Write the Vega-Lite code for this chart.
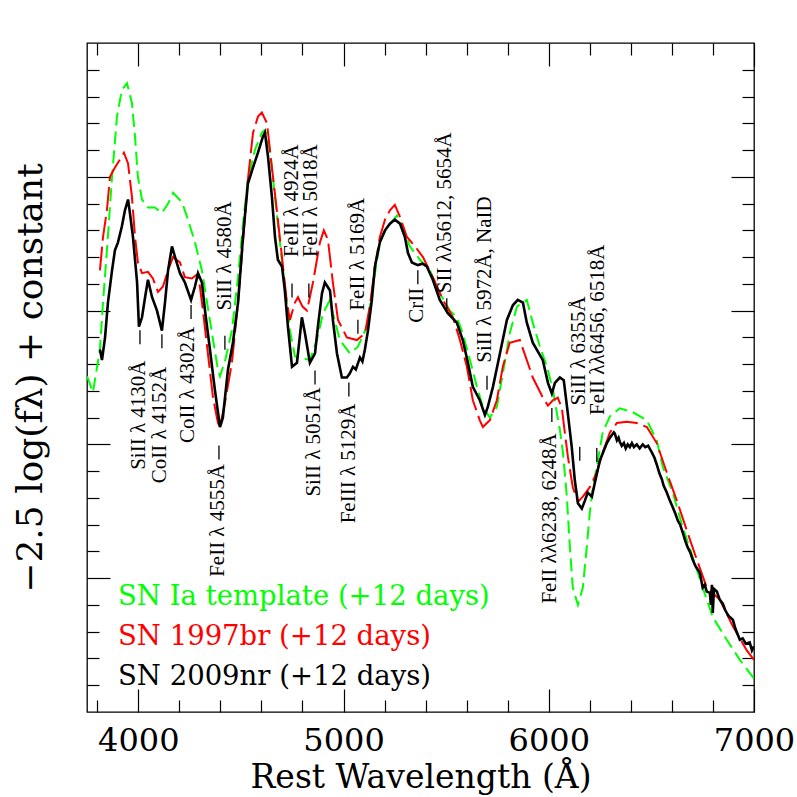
{
  "$schema": "https://vega.github.io/schema/vega-lite/v6.json",
  "description": "Spectra of SN 2009nr, SN 1997br and the SN Ia template at +12 days, with line identifications.",
  "width": 667,
  "height": 669,
  "autosize": {"type": "none"},
  "padding": {"left": 87, "top": 43, "right": 43, "bottom": 85},
  "background": "white",
  "datasets": {
    "template": [
      {"w": 3750, "f": 2.51}, {"w": 3779, "f": 2.39}, {"w": 3813, "f": 2.71}, {"w": 3828, "f": 3.06},
      {"w": 3847, "f": 3.45}, {"w": 3872, "f": 4.0}, {"w": 3896, "f": 4.45}, {"w": 3920, "f": 4.65},
      {"w": 3945, "f": 4.7}, {"w": 3969, "f": 4.55}, {"w": 3984, "f": 4.3}, {"w": 3998, "f": 4.0},
      {"w": 4018, "f": 3.83}, {"w": 4047, "f": 3.77}, {"w": 4081, "f": 3.77}, {"w": 4115, "f": 3.73},
      {"w": 4145, "f": 3.8}, {"w": 4169, "f": 3.88}, {"w": 4213, "f": 3.81}, {"w": 4242, "f": 3.68},
      {"w": 4276, "f": 3.51}, {"w": 4310, "f": 3.3}, {"w": 4335, "f": 3.06}, {"w": 4359, "f": 2.83},
      {"w": 4388, "f": 2.56}, {"w": 4398, "f": 2.51}, {"w": 4422, "f": 2.62}, {"w": 4456, "f": 2.85},
      {"w": 4486, "f": 3.25}, {"w": 4510, "f": 3.65}, {"w": 4534, "f": 3.98}, {"w": 4568, "f": 4.2},
      {"w": 4602, "f": 4.33}, {"w": 4617, "f": 4.35}, {"w": 4641, "f": 4.2}, {"w": 4666, "f": 3.85},
      {"w": 4690, "f": 3.51}, {"w": 4714, "f": 3.18}, {"w": 4739, "f": 2.85}, {"w": 4763, "f": 2.66},
      {"w": 4787, "f": 2.65}, {"w": 4836, "f": 2.63}, {"w": 4870, "f": 2.78}, {"w": 4900, "f": 2.98},
      {"w": 4934, "f": 3.08}, {"w": 4948, "f": 2.98}, {"w": 4982, "f": 2.78}, {"w": 5031, "f": 2.68},
      {"w": 5070, "f": 2.73}, {"w": 5114, "f": 2.88}, {"w": 5143, "f": 3.18}, {"w": 5177, "f": 3.51},
      {"w": 5211, "f": 3.62}, {"w": 5260, "f": 3.71}, {"w": 5289, "f": 3.62}, {"w": 5323, "f": 3.48},
      {"w": 5372, "f": 3.38}, {"w": 5421, "f": 3.3}, {"w": 5469, "f": 3.13}, {"w": 5518, "f": 3.0},
      {"w": 5552, "f": 2.95}, {"w": 5581, "f": 2.83}, {"w": 5616, "f": 2.63}, {"w": 5650, "f": 2.43},
      {"w": 5679, "f": 2.28}, {"w": 5713, "f": 2.2}, {"w": 5747, "f": 2.28}, {"w": 5776, "f": 2.53},
      {"w": 5810, "f": 2.83}, {"w": 5845, "f": 3.03}, {"w": 5893, "f": 3.08}, {"w": 5922, "f": 2.91},
      {"w": 5957, "f": 2.73}, {"w": 5991, "f": 2.58}, {"w": 6020, "f": 2.41}, {"w": 6040, "f": 2.23},
      {"w": 6054, "f": 2.11}, {"w": 6069, "f": 1.94}, {"w": 6088, "f": 1.61}, {"w": 6103, "f": 1.23},
      {"w": 6117, "f": 0.93}, {"w": 6142, "f": 0.8}, {"w": 6166, "f": 0.93}, {"w": 6185, "f": 1.23},
      {"w": 6200, "f": 1.49}, {"w": 6215, "f": 1.68}, {"w": 6239, "f": 1.88}, {"w": 6263, "f": 2.09},
      {"w": 6298, "f": 2.21}, {"w": 6346, "f": 2.27}, {"w": 6410, "f": 2.24}, {"w": 6478, "f": 2.18},
      {"w": 6526, "f": 2.03}, {"w": 6556, "f": 1.83}, {"w": 6604, "f": 1.64}, {"w": 6653, "f": 1.38},
      {"w": 6701, "f": 1.16}, {"w": 6750, "f": 0.93}, {"w": 6799, "f": 0.71}, {"w": 6867, "f": 0.54},
      {"w": 6931, "f": 0.39}, {"w": 7000, "f": 0.25}
    ],
    "sn1997br": [
      {"w": 3813, "f": 3.3}, {"w": 3828, "f": 3.55}, {"w": 3847, "f": 3.75}, {"w": 3862, "f": 4.0},
      {"w": 3886, "f": 4.07}, {"w": 3911, "f": 4.13}, {"w": 3930, "f": 4.18}, {"w": 3950, "f": 4.1},
      {"w": 3969, "f": 3.85}, {"w": 3984, "f": 3.55}, {"w": 3998, "f": 3.36}, {"w": 4018, "f": 3.28},
      {"w": 4047, "f": 3.29}, {"w": 4071, "f": 3.24}, {"w": 4096, "f": 3.14}, {"w": 4120, "f": 3.18},
      {"w": 4145, "f": 3.3}, {"w": 4169, "f": 3.4}, {"w": 4203, "f": 3.36}, {"w": 4227, "f": 3.25},
      {"w": 4261, "f": 3.24}, {"w": 4286, "f": 3.27}, {"w": 4300, "f": 3.18}, {"w": 4315, "f": 3.0},
      {"w": 4339, "f": 2.68}, {"w": 4364, "f": 2.35}, {"w": 4388, "f": 2.16}, {"w": 4398, "f": 2.13},
      {"w": 4422, "f": 2.31}, {"w": 4456, "f": 2.61}, {"w": 4486, "f": 3.06}, {"w": 4510, "f": 3.51},
      {"w": 4534, "f": 3.98}, {"w": 4559, "f": 4.33}, {"w": 4583, "f": 4.45}, {"w": 4602, "f": 4.48},
      {"w": 4627, "f": 4.4}, {"w": 4651, "f": 4.07}, {"w": 4675, "f": 3.75}, {"w": 4700, "f": 3.4},
      {"w": 4724, "f": 3.06}, {"w": 4739, "f": 2.93}, {"w": 4763, "f": 3.06}, {"w": 4778, "f": 3.1},
      {"w": 4800, "f": 3.03}, {"w": 4822, "f": 3.0}, {"w": 4851, "f": 3.21}, {"w": 4885, "f": 3.51},
      {"w": 4904, "f": 3.6}, {"w": 4924, "f": 3.53}, {"w": 4948, "f": 3.21}, {"w": 4973, "f": 2.93},
      {"w": 5016, "f": 2.8}, {"w": 5065, "f": 2.78}, {"w": 5104, "f": 2.83}, {"w": 5128, "f": 3.03},
      {"w": 5153, "f": 3.33}, {"w": 5177, "f": 3.55}, {"w": 5202, "f": 3.68}, {"w": 5226, "f": 3.75},
      {"w": 5250, "f": 3.79}, {"w": 5275, "f": 3.7}, {"w": 5309, "f": 3.55}, {"w": 5348, "f": 3.48},
      {"w": 5387, "f": 3.4}, {"w": 5435, "f": 3.25}, {"w": 5484, "f": 3.08}, {"w": 5533, "f": 2.95},
      {"w": 5567, "f": 2.78}, {"w": 5601, "f": 2.58}, {"w": 5630, "f": 2.33}, {"w": 5664, "f": 2.18},
      {"w": 5679, "f": 2.13}, {"w": 5713, "f": 2.18}, {"w": 5747, "f": 2.33}, {"w": 5776, "f": 2.58},
      {"w": 5810, "f": 2.76}, {"w": 5859, "f": 2.78}, {"w": 5893, "f": 2.63}, {"w": 5922, "f": 2.5},
      {"w": 5971, "f": 2.35}, {"w": 5996, "f": 2.29}, {"w": 6020, "f": 2.33}, {"w": 6044, "f": 2.35},
      {"w": 6064, "f": 2.27}, {"w": 6078, "f": 2.09}, {"w": 6093, "f": 1.91}, {"w": 6117, "f": 1.68},
      {"w": 6142, "f": 1.57}, {"w": 6166, "f": 1.61}, {"w": 6200, "f": 1.68}, {"w": 6234, "f": 1.79},
      {"w": 6263, "f": 1.94}, {"w": 6298, "f": 2.09}, {"w": 6332, "f": 2.16}, {"w": 6380, "f": 2.17},
      {"w": 6429, "f": 2.16}, {"w": 6478, "f": 2.13}, {"w": 6526, "f": 2.01}, {"w": 6575, "f": 1.79},
      {"w": 6624, "f": 1.58}, {"w": 6672, "f": 1.36}, {"w": 6721, "f": 1.14}, {"w": 6770, "f": 0.93},
      {"w": 6833, "f": 0.84}, {"w": 6897, "f": 0.64}, {"w": 6965, "f": 0.46}, {"w": 7000, "f": 0.39}
    ],
    "sn2009nr": [
      {"w": 3813, "f": 2.71}, {"w": 3823, "f": 2.63}, {"w": 3838, "f": 2.8}, {"w": 3852, "f": 3.06},
      {"w": 3872, "f": 3.3}, {"w": 3886, "f": 3.45}, {"w": 3901, "f": 3.51}, {"w": 3920, "f": 3.63},
      {"w": 3935, "f": 3.75}, {"w": 3950, "f": 3.83}, {"w": 3959, "f": 3.73}, {"w": 3974, "f": 3.55},
      {"w": 3994, "f": 3.21}, {"w": 4003, "f": 2.88}, {"w": 4018, "f": 2.95}, {"w": 4033, "f": 3.1},
      {"w": 4047, "f": 3.23}, {"w": 4067, "f": 3.1}, {"w": 4091, "f": 3.0}, {"w": 4115, "f": 2.85},
      {"w": 4130, "f": 3.06}, {"w": 4145, "f": 3.3}, {"w": 4164, "f": 3.48}, {"w": 4179, "f": 3.4},
      {"w": 4203, "f": 3.28}, {"w": 4227, "f": 3.21}, {"w": 4257, "f": 3.08}, {"w": 4276, "f": 3.18},
      {"w": 4291, "f": 3.28}, {"w": 4310, "f": 3.21}, {"w": 4325, "f": 3.0}, {"w": 4349, "f": 2.71},
      {"w": 4373, "f": 2.41}, {"w": 4398, "f": 2.13}, {"w": 4412, "f": 2.2}, {"w": 4437, "f": 2.56},
      {"w": 4461, "f": 2.76}, {"w": 4486, "f": 3.06}, {"w": 4510, "f": 3.55}, {"w": 4534, "f": 3.95},
      {"w": 4559, "f": 4.07}, {"w": 4583, "f": 4.18}, {"w": 4607, "f": 4.3}, {"w": 4617, "f": 4.33},
      {"w": 4632, "f": 4.15}, {"w": 4651, "f": 3.85}, {"w": 4666, "f": 3.55}, {"w": 4680, "f": 3.38},
      {"w": 4700, "f": 3.33}, {"w": 4714, "f": 3.15}, {"w": 4729, "f": 2.88}, {"w": 4749, "f": 2.58},
      {"w": 4773, "f": 2.61}, {"w": 4797, "f": 2.95}, {"w": 4812, "f": 2.83}, {"w": 4836, "f": 2.61},
      {"w": 4861, "f": 2.68}, {"w": 4875, "f": 2.88}, {"w": 4895, "f": 3.13}, {"w": 4909, "f": 3.21},
      {"w": 4934, "f": 3.15}, {"w": 4948, "f": 2.93}, {"w": 4968, "f": 2.68}, {"w": 4992, "f": 2.5},
      {"w": 5016, "f": 2.5}, {"w": 5030, "f": 2.53}, {"w": 5046, "f": 2.58}, {"w": 5060, "f": 2.56},
      {"w": 5080, "f": 2.65}, {"w": 5092, "f": 2.62}, {"w": 5104, "f": 2.71}, {"w": 5119, "f": 2.85},
      {"w": 5138, "f": 3.08}, {"w": 5153, "f": 3.33}, {"w": 5177, "f": 3.51}, {"w": 5202, "f": 3.6},
      {"w": 5226, "f": 3.65}, {"w": 5250, "f": 3.68}, {"w": 5275, "f": 3.65}, {"w": 5299, "f": 3.55},
      {"w": 5314, "f": 3.43}, {"w": 5333, "f": 3.36}, {"w": 5362, "f": 3.34}, {"w": 5385, "f": 3.35},
      {"w": 5406, "f": 3.33}, {"w": 5435, "f": 3.23}, {"w": 5469, "f": 3.08}, {"w": 5508, "f": 2.98},
      {"w": 5552, "f": 2.91}, {"w": 5581, "f": 2.78}, {"w": 5606, "f": 2.61}, {"w": 5630, "f": 2.43},
      {"w": 5664, "f": 2.33}, {"w": 5689, "f": 2.22}, {"w": 5703, "f": 2.28}, {"w": 5728, "f": 2.43},
      {"w": 5762, "f": 2.68}, {"w": 5796, "f": 2.93}, {"w": 5825, "f": 3.04}, {"w": 5849, "f": 3.08},
      {"w": 5874, "f": 3.06}, {"w": 5893, "f": 2.91}, {"w": 5922, "f": 2.76}, {"w": 5971, "f": 2.63},
      {"w": 5996, "f": 2.46}, {"w": 6015, "f": 2.38}, {"w": 6030, "f": 2.46}, {"w": 6054, "f": 2.5},
      {"w": 6073, "f": 2.48}, {"w": 6093, "f": 2.23}, {"w": 6112, "f": 1.98}, {"w": 6127, "f": 1.73},
      {"w": 6142, "f": 1.56}, {"w": 6161, "f": 1.52}, {"w": 6176, "f": 1.58}, {"w": 6190, "f": 1.64},
      {"w": 6210, "f": 1.61}, {"w": 6224, "f": 1.71}, {"w": 6249, "f": 1.88}, {"w": 6283, "f": 2.01},
      {"w": 6298, "f": 2.05}, {"w": 6317, "f": 2.09}, {"w": 6322, "f": 2.08}, {"w": 6332, "f": 2.03},
      {"w": 6340, "f": 2.05}, {"w": 6346, "f": 2.02}, {"w": 6356, "f": 1.99}, {"w": 6366, "f": 2.01},
      {"w": 6375, "f": 1.97}, {"w": 6385, "f": 2.0}, {"w": 6395, "f": 1.98}, {"w": 6405, "f": 2.01},
      {"w": 6415, "f": 1.98}, {"w": 6429, "f": 2.0}, {"w": 6443, "f": 1.97}, {"w": 6458, "f": 2.0},
      {"w": 6470, "f": 1.98}, {"w": 6484, "f": 1.99}, {"w": 6502, "f": 1.94}, {"w": 6515, "f": 1.9},
      {"w": 6526, "f": 1.85}, {"w": 6540, "f": 1.78}, {"w": 6551, "f": 1.74}, {"w": 6560, "f": 1.69},
      {"w": 6575, "f": 1.64}, {"w": 6590, "f": 1.58}, {"w": 6604, "f": 1.53}, {"w": 6615, "f": 1.49},
      {"w": 6629, "f": 1.43}, {"w": 6640, "f": 1.4}, {"w": 6653, "f": 1.34}, {"w": 6665, "f": 1.28},
      {"w": 6677, "f": 1.23}, {"w": 6690, "f": 1.19}, {"w": 6701, "f": 1.14}, {"w": 6715, "f": 1.09},
      {"w": 6736, "f": 1.04}, {"w": 6750, "f": 0.93}, {"w": 6760, "f": 0.95}, {"w": 6770, "f": 0.9},
      {"w": 6785, "f": 0.89}, {"w": 6790, "f": 0.8}, {"w": 6795, "f": 0.95}, {"w": 6799, "f": 0.74},
      {"w": 6805, "f": 0.92}, {"w": 6819, "f": 0.9}, {"w": 6833, "f": 0.84}, {"w": 6848, "f": 0.81},
      {"w": 6860, "f": 0.76}, {"w": 6875, "f": 0.72}, {"w": 6897, "f": 0.69}, {"w": 6910, "f": 0.62},
      {"w": 6931, "f": 0.54}, {"w": 6945, "f": 0.55}, {"w": 6960, "f": 0.51}, {"w": 6979, "f": 0.52},
      {"w": 6990, "f": 0.46}, {"w": 7000, "f": 0.49}
    ],
    "legend": [
      {"w": 3901, "f": 0.8, "s": "SN Ia template (+12 days)"},
      {"w": 3901, "f": 0.5, "s": "SN 1997br (+12 days)"},
      {"w": 3901, "f": 0.2, "s": "SN 2009nr (+12 days)"}
    ],
    "lines": [
      {"w": 4003, "f": 1.81, "t": "SiII λ 4130Å"},
      {"w": 4106, "f": 1.71, "t": "CoII λ 4152Å"},
      {"w": 4242, "f": 2.01, "t": "CoII λ 4302Å"},
      {"w": 4388, "f": 1.01, "t": "FeII λ 4555Å"},
      {"w": 4422, "f": 3.0, "t": "SiII λ 4580Å"},
      {"w": 4749, "f": 3.4, "t": "FeII λ 4924Å"},
      {"w": 4841, "f": 3.4, "t": "FeII λ 5018Å"},
      {"w": 4856, "f": 1.61, "t": "SiII λ 5051Å"},
      {"w": 5026, "f": 1.41, "t": "FeIII λ 5129Å"},
      {"w": 5070, "f": 3.0, "t": "FeII λ 5169Å"},
      {"w": 5357, "f": 2.91, "t": "CrII"},
      {"w": 5494, "f": 3.13, "t": "SII λλ5612, 5654Å"},
      {"w": 5689, "f": 2.61, "t": "SiII λ 5972Å, NaID"},
      {"w": 6005, "f": 0.81, "t": "FeII λλ6238, 6248Å"},
      {"w": 6147, "f": 2.29, "t": "SiII λ 6355Å"},
      {"w": 6239, "f": 2.22, "t": "FeII λλ6456, 6518Å"}
    ],
    "dashes": [
      {"w": 4008, "f": 2.8}, {"w": 4115, "f": 2.77}, {"w": 4257, "f": 2.99}, {"w": 4393, "f": 1.94},
      {"w": 4422, "f": 2.76}, {"w": 4749, "f": 3.15}, {"w": 4831, "f": 3.15}, {"w": 4861, "f": 2.5},
      {"w": 5026, "f": 2.41}, {"w": 5070, "f": 2.88}, {"w": 5362, "f": 3.25}, {"w": 5503, "f": 3.04},
      {"w": 5699, "f": 2.46}, {"w": 6015, "f": 2.22}, {"w": 6151, "f": 1.93}, {"w": 6234, "f": 1.92}
    ]
  },
  "layer": [
    {
      "data": {"name": "template"},
      "mark": {"type": "line", "color": "#00ff00", "strokeWidth": 2, "strokeDash": [13, 6], "clip": true},
      "encoding": {
        "x": {
          "field": "w", "type": "quantitative",
          "scale": {"domain": [3750, 7000], "nice": false, "zero": false},
          "axis": {
            "orient": "bottom", "values": [4000, 5000, 6000, 7000], "format": "d", "tickSize": -23,
            "labelFont": "DejaVu Serif", "labelFontSize": 32, "labelColor": "black", "labelPadding": 36,
            "labelFlush": false, "labelOverlap": false,
            "title": "Rest Wavelength (Å)", "titleFont": "DejaVu Serif", "titleFontSize": 33,
            "titleFontWeight": "normal", "titleColor": "black", "titleBaseline": "alphabetic", "titlePadding": 31
          }
        },
        "y": {
          "field": "f", "type": "quantitative",
          "scale": {"domain": [0, 5], "nice": false, "zero": false},
          "axis": {
            "orient": "left", "values": [1, 2, 3, 4], "tickSize": -23, "labels": false,
            "title": "−2.5 log(fλ) + constant", "titleFont": "DejaVu Serif", "titleFontSize": 36,
            "titleFontWeight": "normal", "titleColor": "black", "titlePadding": 37
          }
        }
      }
    },
    {
      "data": {"name": "sn1997br"},
      "mark": {"type": "line", "color": "#ff0000", "strokeWidth": 2, "strokeDash": [24, 6], "clip": true},
      "encoding": {
        "x": {
          "field": "w", "type": "quantitative",
          "scale": {"domain": [3750, 7000], "nice": false, "zero": false},
          "axis": {
            "orient": "bottom", "values": [3800, 4200, 4400, 4600, 4800, 5200, 5400, 5600, 5800, 6200, 6400, 6600, 6800],
            "tickSize": -12, "labels": false, "title": null
          }
        },
        "y": {
          "field": "f", "type": "quantitative",
          "scale": {"domain": [0, 5], "nice": false, "zero": false},
          "axis": {
            "orient": "left", "values": [0.2, 0.4, 0.6, 0.8, 1.2, 1.4, 1.6, 1.8, 2.2, 2.4, 2.6, 2.8, 3.2, 3.4, 3.6, 3.8, 4.2, 4.4, 4.6, 4.8],
            "tickSize": -12, "labels": false, "title": null
          }
        }
      }
    },
    {
      "data": {"name": "sn2009nr"},
      "mark": {"type": "line", "color": "black", "strokeWidth": 2.6, "clip": true},
      "encoding": {
        "x": {
          "field": "w", "type": "quantitative",
          "scale": {"domain": [3750, 7000], "nice": false, "zero": false},
          "axis": {"orient": "top", "values": [4000, 5000, 6000, 7000], "tickSize": -23, "labels": false, "title": null}
        },
        "y": {
          "field": "f", "type": "quantitative",
          "scale": {"domain": [0, 5], "nice": false, "zero": false},
          "axis": {"orient": "right", "values": [1, 2, 3, 4], "tickSize": -23, "labels": false, "title": null}
        }
      }
    },
    {
      "data": {"name": "legend"},
      "mark": {"type": "text", "align": "left", "baseline": "alphabetic", "font": "DejaVu Serif", "fontSize": 27.5},
      "encoding": {
        "x": {
          "field": "w", "type": "quantitative",
          "axis": {
            "orient": "top", "values": [3800, 4200, 4400, 4600, 4800, 5200, 5400, 5600, 5800, 6200, 6400, 6600, 6800],
            "tickSize": -12, "labels": false, "title": null
          }
        },
        "y": {
          "field": "f", "type": "quantitative",
          "axis": {
            "orient": "right", "values": [0.2, 0.4, 0.6, 0.8, 1.2, 1.4, 1.6, 1.8, 2.2, 2.4, 2.6, 2.8, 3.2, 3.4, 3.6, 3.8, 4.2, 4.4, 4.6, 4.8],
            "tickSize": -12, "labels": false, "title": null
          }
        },
        "text": {"field": "s"},
        "color": {
          "field": "s", "type": "nominal", "legend": null,
          "scale": {
            "domain": ["SN Ia template (+12 days)", "SN 1997br (+12 days)", "SN 2009nr (+12 days)"],
            "range": ["#00ff00", "#ff0000", "#000000"]
          }
        }
      }
    },
    {
      "data": {"name": "lines"},
      "mark": {"type": "text", "angle": 270, "align": "left", "baseline": "middle", "font": "Liberation Serif", "fontSize": 21, "color": "black"},
      "encoding": {
        "x": {"field": "w", "type": "quantitative", "axis": null},
        "y": {"field": "f", "type": "quantitative", "axis": null},
        "text": {"field": "t"}
      }
    },
    {
      "data": {"name": "dashes"},
      "mark": {"type": "tick", "orient": "vertical", "size": 14, "thickness": 1.3, "color": "black", "opacity": 1},
      "encoding": {
        "x": {"field": "w", "type": "quantitative", "axis": null},
        "y": {"field": "f", "type": "quantitative", "axis": null}
      }
    }
  ],
  "resolve": {"axis": {"x": "independent", "y": "independent"}},
  "config": {
    "view": {"stroke": "black", "strokeWidth": 1.3},
    "axis": {"grid": false, "domain": false, "tickColor": "black", "tickWidth": 1.2}
  }
}
